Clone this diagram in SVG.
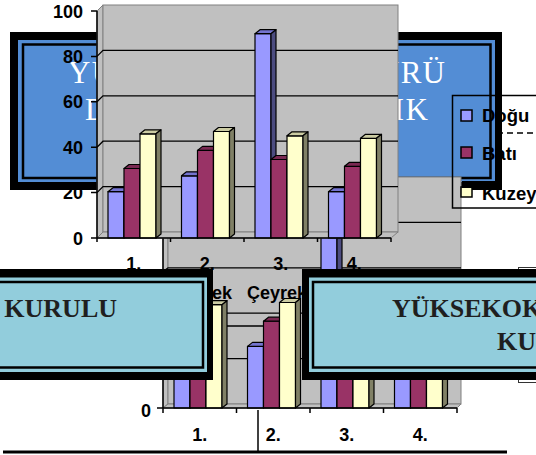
<svg xmlns="http://www.w3.org/2000/svg" width="536" height="455" viewBox="0 0 536 455">
<style>
.wall{fill:#C0C0C0;stroke:#808080;stroke-width:1}
.grid{fill:none;stroke:#000;stroke-width:1.3}
.axis{fill:none;stroke:#000;stroke-width:1.5}
.bar{stroke:#000;stroke-width:1.2;stroke-linejoin:round}
.bf{fill:#9999FF}.bt{fill:#7474D0}.bs{fill:#4C4C80}
.mf{fill:#993366}.mt{fill:#7A2952}.ms{fill:#4D1933}
.yf{fill:#FFFFCC}.yt{fill:#CCCCA3}.ys{fill:#808066}
.lbl{font-family:"Liberation Sans",Arial,sans-serif;font-weight:bold;font-size:18px;fill:#000}
.leg{font-family:"Liberation Sans",Arial,sans-serif;font-weight:bold;font-size:18.5px;fill:#000}
.ttl{font-family:"Liberation Serif","Times New Roman",serif;font-size:31px;fill:#FFFFFF}
.box{font-family:"Liberation Serif","Times New Roman",serif;font-weight:bold;font-size:26px;fill:#1F1F1F}
.blk{fill:#000}
.teal{fill:#92CDDC}
.thin{fill:#92CDDC;stroke:#000;stroke-width:2.5}
</style>
<rect x="0" y="0" width="536" height="455" fill="#FFFFFF"/>

<g id="node-mudur">
<rect class="blk" x="10" y="32" width="492" height="158"/>
<rect x="18" y="40" width="477" height="142" fill="#538DD5"/>
<rect x="23" y="44.5" width="467.5" height="133.5" fill="#538DD5" stroke="#000" stroke-width="2.5"/>
<text class="ttl" x="68" y="83" textLength="377" lengthAdjust="spacing">YÜKSEKOKUL MÜDÜRÜ</text>
<text class="ttl" x="85" y="120" textLength="343" lengthAdjust="spacing">DEKAN YARDIMCILIK</text>
</g>

<g id="chart-b">
<polygon class="wall" points="163,182 168,177 168,404 163,408"/>
<rect class="wall" x="168" y="177" width="293" height="227"/>
<polygon class="wall" points="163,408 168,404 461,404 457,408"/>
<polyline class="grid" points="163,362.6 168,358.6 461,358.6"/>
<polyline class="grid" points="163,317.2 168,313.2 461,313.2"/>
<polyline class="grid" points="163,271.8 168,267.8 461,267.8"/>
<polyline class="grid" points="163,226.4 168,222.4 461,222.4"/>
<line class="grid" x1="213" y1="326" x2="265" y2="326"/>
<g class="bar">
<rect class="bf" x="174" y="362.1" width="16" height="45.9"/><polygon class="bt" points="174,362.1 179,358.1 195,358.1 190,362.1"/><polygon class="bs" points="190,362.1 195,358.1 195,404 190,408"/>
<rect class="mf" x="190" y="339.2" width="16" height="68.8"/><polygon class="mt" points="190,339.2 195,335.2 211,335.2 206,339.2"/><polygon class="ms" points="206,339.2 211,335.2 211,404 206,408"/>
<rect class="yf" x="206" y="304.7" width="16" height="103.3"/><polygon class="yt" points="206,304.7 211,300.7 227,300.7 222,304.7"/><polygon class="ys" points="222,304.7 227,300.7 227,404 222,408"/>
<rect class="bf" x="247.5" y="346.4" width="16" height="61.6"/><polygon class="bt" points="247.5,346.4 252.5,342.4 268.5,342.4 263.5,346.4"/><polygon class="bs" points="263.5,346.4 268.5,342.4 268.5,404 263.5,408"/>
<rect class="mf" x="263.5" y="321.2" width="16" height="86.8"/><polygon class="mt" points="263.5,321.2 268.5,317.2 284.5,317.2 279.5,321.2"/><polygon class="ms" points="279.5,321.2 284.5,317.2 284.5,404 279.5,408"/>
<rect class="yf" x="279.5" y="302.5" width="16" height="105.5"/><polygon class="yt" points="279.5,302.5 284.5,298.5 300.5,298.5 295.5,302.5"/><polygon class="ys" points="295.5,302.5 300.5,298.5 300.5,404 295.5,408"/>
<rect class="bf" x="321" y="205.5" width="16" height="202.5"/><polygon class="bt" points="321,205.5 326,201.5 342,201.5 337,205.5"/><polygon class="bs" points="337,205.5 342,201.5 342,404 337,408"/>
<rect class="mf" x="337" y="330.2" width="16" height="77.8"/><polygon class="mt" points="337,330.2 342,326.2 358,326.2 353,330.2"/><polygon class="ms" points="353,330.2 358,326.2 358,404 353,408"/>
<rect class="yf" x="353" y="306.8" width="16" height="101.2"/><polygon class="yt" points="353,306.8 358,302.8 374,302.8 369,306.8"/><polygon class="ys" points="369,306.8 374,302.8 374,404 369,408"/>
<rect class="bf" x="394.5" y="362.1" width="16" height="45.9"/><polygon class="bt" points="394.5,362.1 399.5,358.1 415.5,358.1 410.5,362.1"/><polygon class="bs" points="410.5,362.1 415.5,358.1 415.5,404 410.5,408"/>
<rect class="mf" x="410.5" y="336.9" width="16" height="71.1"/><polygon class="mt" points="410.5,336.9 415.5,332.9 431.5,332.9 426.5,336.9"/><polygon class="ms" points="426.5,336.9 431.5,332.9 431.5,404 426.5,408"/>
<rect class="yf" x="426.5" y="309.2" width="16" height="98.8"/><polygon class="yt" points="426.5,309.2 431.5,305.2 447.5,305.2 442.5,309.2"/><polygon class="ys" points="442.5,309.2 447.5,305.2 447.5,404 442.5,408"/>
</g>
<path class="axis" d="M163,182 V408 H457 M157,408 H163 M163,408 V413 M236.5,408 V413 M310,408 V413 M383.5,408 V413 M457,408 V413"/>
<text class="lbl" x="151" y="416.5" text-anchor="end">0</text>
<text class="lbl" x="199.75" y="441" text-anchor="middle">1.</text>
<text class="lbl" x="273.25" y="441" text-anchor="middle">2.</text>
<text class="lbl" x="346.75" y="441" text-anchor="middle">3.</text>
<text class="lbl" x="420.25" y="441" text-anchor="middle">4.</text>
</g>

<g id="chart-a">
<polygon class="wall" points="97,11 103,5 103,232 97,238"/>
<rect class="wall" x="103" y="5" width="295" height="227"/>
<polygon class="wall" points="97,238 103,232 398,232 391,238"/>
<polyline class="grid" points="97,192.6 103,186.6 398,186.6"/>
<polyline class="grid" points="97,147.2 103,141.2 398,141.2"/>
<polyline class="grid" points="97,101.8 103,95.8 398,95.8"/>
<polyline class="grid" points="97,56.4 103,50.4 398,50.4"/>
<g class="bar">
<rect class="bf" x="108" y="191.7" width="16" height="46.3"/><polygon class="bt" points="108,191.7 113,187.7 129,187.7 124,191.7"/><polygon class="bs" points="124,191.7 129,187.7 129,234 124,238"/>
<rect class="mf" x="124" y="168.5" width="16" height="69.5"/><polygon class="mt" points="124,168.5 129,164.5 145,164.5 140,168.5"/><polygon class="ms" points="140,168.5 145,164.5 145,234 140,238"/>
<rect class="yf" x="140" y="133.8" width="16" height="104.2"/><polygon class="yt" points="140,133.8 145,129.8 161,129.8 156,133.8"/><polygon class="ys" points="156,133.8 161,129.8 161,234 156,238"/>
<rect class="bf" x="181.5" y="175.8" width="16" height="62.2"/><polygon class="bt" points="181.5,175.8 186.5,171.8 202.5,171.8 197.5,175.8"/><polygon class="bs" points="197.5,175.8 202.5,171.8 202.5,234 197.5,238"/>
<rect class="mf" x="197.5" y="150.4" width="16" height="87.6"/><polygon class="mt" points="197.5,150.4 202.5,146.4 218.5,146.4 213.5,150.4"/><polygon class="ms" points="213.5,150.4 218.5,146.4 218.5,234 213.5,238"/>
<rect class="yf" x="213.5" y="131.5" width="16" height="106.5"/><polygon class="yt" points="213.5,131.5 218.5,127.5 234.5,127.5 229.5,131.5"/><polygon class="ys" points="229.5,131.5 234.5,127.5 234.5,234 229.5,238"/>
<rect class="bf" x="255" y="33.7" width="16" height="204.3"/><polygon class="bt" points="255,33.7 260,29.7 276,29.7 271,33.7"/><polygon class="bs" points="271,33.7 276,29.7 276,234 271,238"/>
<rect class="mf" x="271" y="159.5" width="16" height="78.5"/><polygon class="mt" points="271,159.5 276,155.5 292,155.5 287,159.5"/><polygon class="ms" points="287,159.5 292,155.5 292,234 287,238"/>
<rect class="yf" x="287" y="135.8" width="16" height="102.2"/><polygon class="yt" points="287,135.8 292,131.8 308,131.8 303,135.8"/><polygon class="ys" points="303,135.8 308,131.8 308,234 303,238"/>
<rect class="bf" x="328.5" y="191.7" width="16" height="46.3"/><polygon class="bt" points="328.5,191.7 333.5,187.7 349.5,187.7 344.5,191.7"/><polygon class="bs" points="344.5,191.7 349.5,187.7 349.5,234 344.5,238"/>
<rect class="mf" x="344.5" y="166.3" width="16" height="71.7"/><polygon class="mt" points="344.5,166.3 349.5,162.3 365.5,162.3 360.5,166.3"/><polygon class="ms" points="360.5,166.3 365.5,162.3 365.5,234 360.5,238"/>
<rect class="yf" x="360.5" y="138.3" width="16" height="99.7"/><polygon class="yt" points="360.5,138.3 365.5,134.3 381.5,134.3 376.5,138.3"/><polygon class="ys" points="376.5,138.3 381.5,134.3 381.5,234 376.5,238"/>
</g>
<path class="axis" d="M97,11 V238 H391 M91,238 H97 M91,192.6 H97 M91,147.2 H97 M91,101.8 H97 M91,56.4 H97 M91,11 H97 M97,238 V242 M170.5,238 V242 M244,238 V242 M317.5,238 V242 M391,238 V242"/>
<text class="lbl" x="83" y="17.5" text-anchor="end">100</text>
<text class="lbl" x="83" y="62.9" text-anchor="end">80</text>
<text class="lbl" x="83" y="108.3" text-anchor="end">60</text>
<text class="lbl" x="83" y="153.7" text-anchor="end">40</text>
<text class="lbl" x="83" y="199.1" text-anchor="end">20</text>
<text class="lbl" x="83" y="244.5" text-anchor="end">0</text>
<text class="lbl" x="133.75" y="270" text-anchor="middle">1.</text>
<text class="lbl" x="207.25" y="270" text-anchor="middle">2.</text>
<text class="lbl" x="280.75" y="270" text-anchor="middle">3.</text>
<text class="lbl" x="354.25" y="270" text-anchor="middle">4.</text>
<text class="lbl" x="133.75" y="299" text-anchor="middle">Çeyrek</text>
<text class="lbl" x="202" y="299" text-anchor="middle">Çeyrek</text>
<text class="lbl" x="277" y="299" text-anchor="middle">Çeyrek</text>
<text class="lbl" x="354.25" y="299" text-anchor="middle">Çeyrek</text>
</g>

<g id="legend">
<rect x="452.5" y="95.5" width="100" height="112.5" fill="none" stroke="#000" stroke-width="1.5"/>
<rect class="bf" x="461" y="110" width="11" height="11" stroke="#000" stroke-width="1.5"/>
<rect class="mf" x="461" y="147" width="11" height="11" stroke="#000" stroke-width="1.5"/>
<rect class="yf" x="461" y="187" width="11" height="10" stroke="#000" stroke-width="1.5"/>
<text class="leg" x="482" y="122">Doğu</text>
<text class="leg" x="482" y="160">Batı</text>
<text class="leg" x="482" y="199.5">Kuzey</text>
</g>

<g id="node-mudur-border">
<rect class="blk" x="495" y="32" width="7" height="158"/>
<rect class="blk" x="462" y="181" width="40" height="7"/>
</g>

<g id="node-right-edge">
<rect x="518.5" y="267.5" width="30" height="115" fill="#FFFFFF" stroke="#333" stroke-width="1"/>
</g>

<g id="node-kurulu">
<rect class="blk" x="-290" y="269" width="503" height="111"/>
<rect class="teal" x="-290" y="277.5" width="497" height="94.5"/>
<rect class="thin" x="-290" y="282" width="493" height="85.5"/>
<text class="box" x="117" y="317" text-anchor="end">YÜKSEKOKUL KURULU</text>
</g>

<g id="node-yonetim">
<rect class="blk" x="302" y="269" width="500" height="111"/>
<rect class="teal" x="309" y="277.5" width="500" height="94.5"/>
<rect class="thin" x="313" y="282" width="500" height="85.5"/>
<text class="box" x="392" y="317">YÜKSEKOKUL YÖNETİM</text>
<text class="box" x="497" y="350">KURULU</text>
</g>

<g id="connectors" fill="none" stroke="#000">
<line x1="497" y1="133" x2="536" y2="133" stroke-width="1.5" stroke-dasharray="6 4"/>
<line x1="258" y1="410" x2="258" y2="452" stroke-width="1.5"/>
<line x1="3" y1="452" x2="507" y2="452" stroke-width="3"/>
</g>
</svg>
